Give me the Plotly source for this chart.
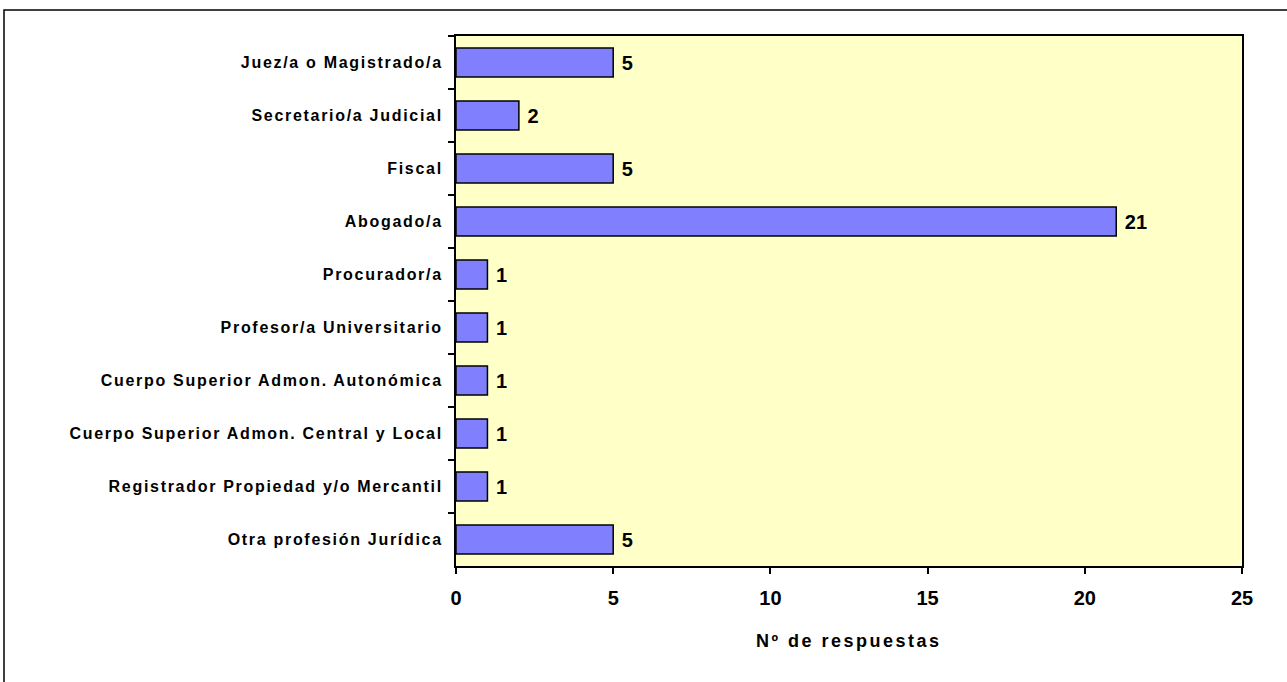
import plotly.graph_objects as go

# data (top to bottom as shown)
profesiones = [
    "Juez/a o Magistrado/a",
    "Secretario/a Judicial",
    "Fiscal",
    "Abogado/a",
    "Procurador/a",
    "Profesor/a Universitario",
    "Cuerpo Superior Admon. Autonómica",
    "Cuerpo Superior Admon. Central y Local",
    "Registrador Propiedad y/o Mercantil",
    "Otra profesión Jurídica",
]
respuestas = [5, 2, 5, 21, 1, 1, 1, 1, 1, 5]
x_ticks = [0, 5, 10, 15, 20, 25]

W, H = 1287, 682
L, R, T, B = 456, 1242, 36, 566

FONT = "Liberation Sans, Arial, sans-serif"

fig = go.Figure(go.Bar(
    x=respuestas,
    y=profesiones,
    orientation="h",
    marker=dict(color="#8080FF", line=dict(color="black", width=1.5)),
    texttemplate="&nbsp;%{x}",
    textposition="outside",
    cliponaxis=False,
    textfont=dict(family=FONT, size=20, color="black", weight="bold"),
))

fig.update_layout(
    width=W, height=H,
    margin=dict(l=L, r=W - R, t=T, b=H - B),
    paper_bgcolor="white",
    plot_bgcolor="#FFFFC8",
    bargap=0.45,
    showlegend=False,
    font=dict(family=FONT, color="black"),
)

fig.update_xaxes(
    range=[0, 25],
    tickvals=x_ticks,
    ticks="outside", ticklen=6, tickwidth=2, tickcolor="black",
    ticklabelstandoff=7,
    tickfont=dict(size=20, weight="bold"),
    showgrid=False, zeroline=False,
    showline=True, linecolor="black", linewidth=2, mirror=True,
)

fig.update_yaxes(
    autorange="reversed",
    tickson="boundaries",
    ticks="outside", ticklen=6, tickwidth=2, tickcolor="black",
    ticklabelstandoff=8,
    tickfont=dict(size=16, weight="bold"),
    showgrid=False,
    showline=True, linecolor="black", linewidth=2, mirror=True,
)

pw, ph = R - L, B - T

# axis title
fig.add_annotation(
    text="Nº de respuestas", xref="paper", yref="paper",
    x=0.5, y=(B - 641) / ph, xanchor="center", yanchor="middle",
    showarrow=False, font=dict(size=18, weight="bold"),
)

# outer chart border (only left and top edges fall inside the picture)
fig.add_shape(
    type="rect", xref="paper", yref="paper",
    x0=(4 - L) / pw, x1=(W + 20 - L) / pw,
    y0=(B - (H + 20)) / ph, y1=(B - 10) / ph,
    line=dict(color="black", width=1.5), fillcolor="rgba(0,0,0,0)",
    layer="below",
)

spacing = """
document.body.style.margin='0';
document.querySelectorAll('.ytick text').forEach(function(t){t.style.letterSpacing='1.7px';});
document.querySelectorAll('.annotation-text').forEach(function(t){t.style.letterSpacing='2.5px';});
"""

fig.write_html("out.html", post_script=spacing, config={"displayModeBar": False})
